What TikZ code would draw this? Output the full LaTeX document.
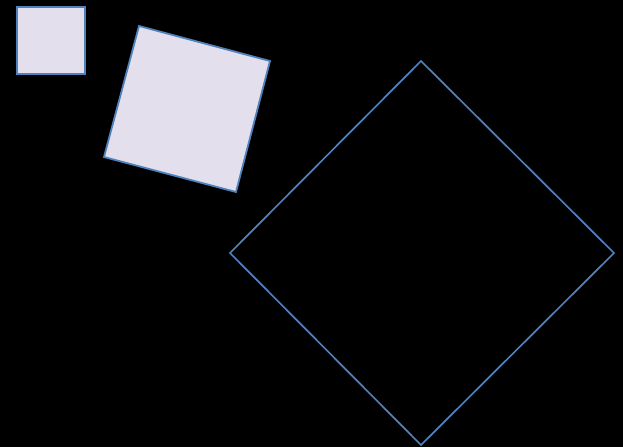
\documentclass[tikz,border=0pt]{standalone}
\usepackage{xcolor}
\usetikzlibrary{calc}
\definecolor{tileblue}{HTML}{4F81BD}
\definecolor{tilefill}{HTML}{E4DFEC}
\tikzset{
    tile/.style={draw=tileblue, fill=tilefill, line width=1.8pt, line join=miter},
    frame/.style={draw=tileblue, line width=1.7pt, line join=miter}
}

\begin{document}
\begin{tikzpicture}[x=1pt, y=-1pt]
    \fill[black] (0,0) rectangle (623,447);
    \useasboundingbox (0,0) rectangle (623,447);

    % small square
    \draw[tile] (17,7) rectangle (85,74);
    % tilted square
    \draw[tile] (139,26) -- (270,61) -- (236,192) -- (104,157) -- cycle;
    % big diamond
    \draw[frame] (421,61) -- (614,253) -- (421,445) -- (230,253) -- cycle;
\end{tikzpicture}
\end{document}
